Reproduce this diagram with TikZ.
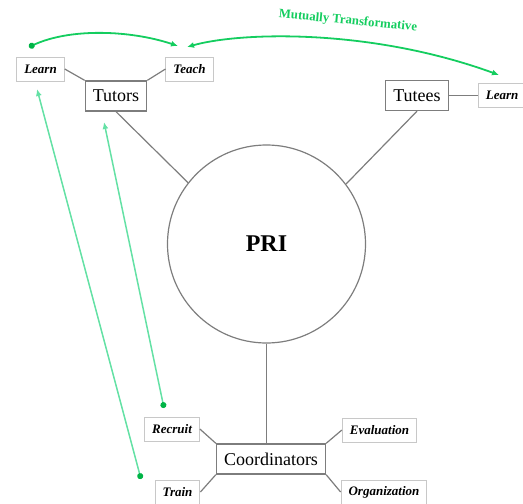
\documentclass[tikz,border=0pt]{standalone}
\usepackage{fontspec}
\setmainfont{Liberation Serif}
\usepackage{tikz}
\usetikzlibrary{arrows.meta,positioning,shapes.geometric}
\definecolor{linkgray}{RGB}{125,125,125}
\definecolor{framegray}{RGB}{200,200,200}
\definecolor{mutgreen}{RGB}{20,205,95}
\definecolor{dotgreen}{RGB}{0,180,70}
\definecolor{mintgreen}{RGB}{100,225,165}
\tikzset{
    mainbox/.style={
        draw=linkgray,
        line width=1.3pt,
        minimum height=30pt,
        inner xsep=7.5pt,
        font=\fontsize{18}{20}\selectfont
    },
    taskbox/.style={
        draw=framegray,
        line width=1pt,
        minimum height=24pt,
        inner xsep=7.5pt,
        font=\fontsize{13}{15}\selectfont\bfseries\itshape
    },
    hub/.style={
        draw=linkgray,
        circle,
        line width=1.2pt,
        minimum size=198pt,
        font=\fontsize{24}{26}\selectfont\bfseries
    },
    link/.style={draw=linkgray, line width=1.2pt},
    mutual/.style={mutgreen, line width=1.8pt},
    feed/.style={mintgreen, line width=1.5pt}
}
\newcommand{\dottip}{Circle[length=6pt,color=dotgreen]}
\newcommand{\headtip}{Latex[length=7pt,width=6pt]}

\begin{document}
\begin{tikzpicture}[x=1pt,y=-1pt]
        \useasboundingbox (0,0) rectangle (523,504);

        \node[hub] (pri) at (266.5,244) {PRI};
        \node[mainbox] (tutors) at (116,96) {Tutors};
        \node[mainbox] (tutees) at (417,95.5) {Tutees};
        \node[mainbox] (coord) at (271,459) {Coordinators};

        \node[taskbox] (tlearn) at (40.5,69) {Learn};
        \node[taskbox] (teach) at (189.5,69) {Teach};
        \node[taskbox, right=29pt of tutees] (slearn) {Learn};
        \node[taskbox] (recruit) at (172,429) {Recruit};
        \node[taskbox] (train) at (177.5,492) {Train};
        \node[taskbox] (eval) at (379.5,430) {Evaluation};
        \node[taskbox] (org) at (384,492) {Organization};

        \draw[link] (tutors.south) -- (pri.142);
        \draw[link] (tutees.south) -- (pri.37);
        \draw[link] (pri.south) -- (pri.south |- coord.north);
        \draw[link] (tlearn.east) -- (tutors.north west);
        \draw[link] (tutors.north east) -- (teach.west);
        \draw[link] (tutees.east) -- (slearn.west);
        \draw[link] (recruit.east) -- (coord.north west);
        \draw[link] (coord.south west) -- (train.east);
        \draw[link] (coord.north east) -- (eval.west);
        \draw[link] (coord.south east) -- (org.west);

        % green arrows
        \coordinate (d1) at (29,47);
        \coordinate (a1) at (178,46);
        \coordinate (a2) at (187,47);
        \coordinate (b2) at (499,75);
        \coordinate (d3) at (141,479);
        \coordinate (a3) at (37,89);
        \coordinate (d4) at (164,408);
        \coordinate (a4) at (104,122);

        \draw[mutual, {\dottip}-{\headtip}] (d1) .. controls (70,28) and (130,30) .. (a1);
        \draw[mutual, {\headtip}-{\headtip}] (a2) .. controls (240,32) and (370,28) .. (b2);
        \node[text=mutgreen, rotate=-5.5, font=\fontsize{12.8}{15}\selectfont\bfseries] (mt) at (348,21) {Mutually Transformative};

        \draw[feed, {\dottip}-{\headtip}] (d3) -- (a3);
        \draw[feed, {\dottip}-{\headtip}] (d4) -- (a4);
    \end{tikzpicture}
\end{document}
